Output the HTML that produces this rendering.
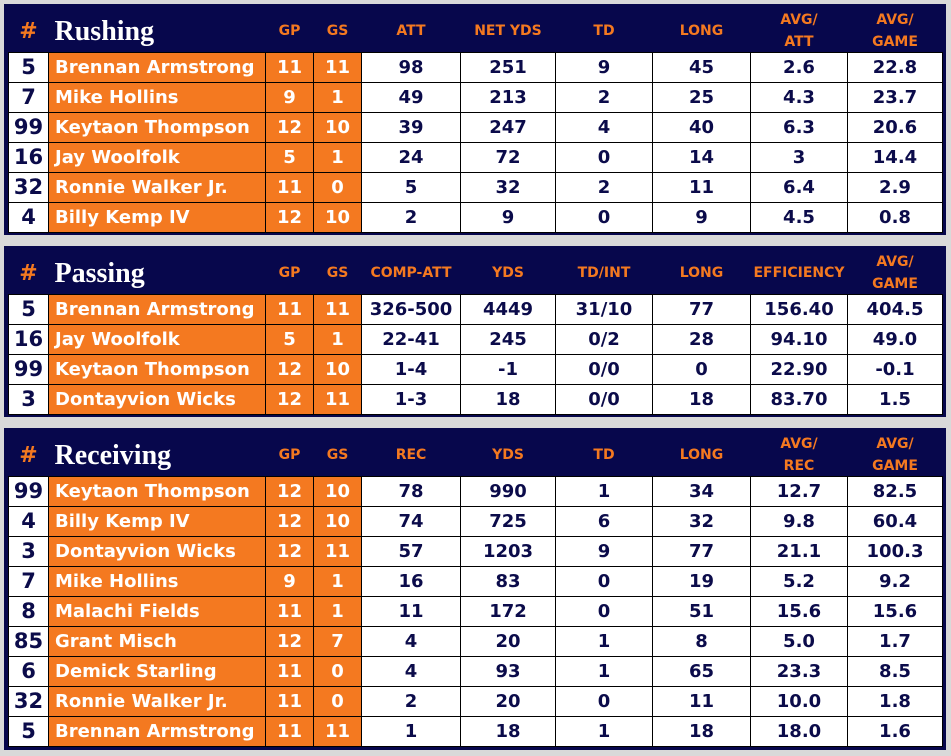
<!DOCTYPE html>
<html><head><meta charset="utf-8"><style>
body{margin:0;width:951px;height:756px;background:#d9d9d9;position:relative;overflow:hidden;font-family:"DejaVu Sans","Liberation Sans",sans-serif}
.p{position:absolute;left:4px;width:942px;background:#07074c}
table{position:absolute;left:4px;border-collapse:collapse;table-layout:fixed;width:934px}
td{height:29px;padding:0;text-align:center;border:1px solid #000;background:#fff;color:#0b0b4a;font-weight:bold;font-size:18px;line-height:29px;white-space:nowrap;overflow:hidden}
td.n{background:#f47920;color:#fff;text-align:left;padding-left:6px;font-size:18px}
td.g{background:#f47920;color:#fff;font-size:18px}
td.h{font-size:21px}
tr.hd td{background:#07074c;border:none;color:#f47920;font-size:14px;line-height:22px;height:48px}
tr.hd td span{position:relative;top:3px;display:inline-block}
tr.hd td.t{color:#fff;font-family:"Liberation Serif","DejaVu Serif",serif;font-size:28px;text-align:left;padding-left:6px}
tr.hd td.s{font-size:22px}
tr.hd td.t span,tr.hd td.s span{top:4px}
</style></head><body>
<div class="p" style="top:4px;height:231px">
<table><colgroup><col style="width:40px"><col style="width:217px"><col style="width:48px"><col style="width:48px"><col style="width:99px"><col style="width:95px"><col style="width:97px"><col style="width:98px"><col style="width:97px"><col style="width:95px"></colgroup>
<tr class="hd"><td class="s"><span>#</span></td><td class="t"><span>Rushing</span></td><td><span>GP</span></td><td><span>GS</span></td><td><span>ATT</span></td><td><span>NET YDS</span></td><td><span>TD</span></td><td><span>LONG</span></td><td><span>AVG/<br>ATT</span></td><td><span>AVG/<br>GAME</span></td></tr>
<tr><td class="h">5</td><td class="n">Brennan Armstrong</td><td class="g">11</td><td class="g">11</td><td>98</td><td>251</td><td>9</td><td>45</td><td>2.6</td><td>22.8</td></tr>
<tr><td class="h">7</td><td class="n">Mike Hollins</td><td class="g">9</td><td class="g">1</td><td>49</td><td>213</td><td>2</td><td>25</td><td>4.3</td><td>23.7</td></tr>
<tr><td class="h">99</td><td class="n">Keytaon Thompson</td><td class="g">12</td><td class="g">10</td><td>39</td><td>247</td><td>4</td><td>40</td><td>6.3</td><td>20.6</td></tr>
<tr><td class="h">16</td><td class="n">Jay Woolfolk</td><td class="g">5</td><td class="g">1</td><td>24</td><td>72</td><td>0</td><td>14</td><td>3</td><td>14.4</td></tr>
<tr><td class="h">32</td><td class="n">Ronnie Walker Jr.</td><td class="g">11</td><td class="g">0</td><td>5</td><td>32</td><td>2</td><td>11</td><td>6.4</td><td>2.9</td></tr>
<tr><td class="h">4</td><td class="n">Billy Kemp IV</td><td class="g">12</td><td class="g">10</td><td>2</td><td>9</td><td>0</td><td>9</td><td>4.5</td><td>0.8</td></tr>
</table></div>
<div class="p" style="top:246px;height:171px">
<table><colgroup><col style="width:40px"><col style="width:217px"><col style="width:48px"><col style="width:48px"><col style="width:99px"><col style="width:95px"><col style="width:97px"><col style="width:98px"><col style="width:97px"><col style="width:95px"></colgroup>
<tr class="hd"><td class="s"><span>#</span></td><td class="t"><span>Passing</span></td><td><span>GP</span></td><td><span>GS</span></td><td><span>COMP-ATT</span></td><td><span>YDS</span></td><td><span>TD/INT</span></td><td><span>LONG</span></td><td><span>EFFICIENCY</span></td><td><span>AVG/<br>GAME</span></td></tr>
<tr><td class="h">5</td><td class="n">Brennan Armstrong</td><td class="g">11</td><td class="g">11</td><td>326-500</td><td>4449</td><td>31/10</td><td>77</td><td>156.40</td><td>404.5</td></tr>
<tr><td class="h">16</td><td class="n">Jay Woolfolk</td><td class="g">5</td><td class="g">1</td><td>22-41</td><td>245</td><td>0/2</td><td>28</td><td>94.10</td><td>49.0</td></tr>
<tr><td class="h">99</td><td class="n">Keytaon Thompson</td><td class="g">12</td><td class="g">10</td><td>1-4</td><td>-1</td><td>0/0</td><td>0</td><td>22.90</td><td>-0.1</td></tr>
<tr><td class="h">3</td><td class="n">Dontayvion Wicks</td><td class="g">12</td><td class="g">11</td><td>1-3</td><td>18</td><td>0/0</td><td>18</td><td>83.70</td><td>1.5</td></tr>
</table></div>
<div class="p" style="top:428px;height:322px">
<table><colgroup><col style="width:40px"><col style="width:217px"><col style="width:48px"><col style="width:48px"><col style="width:99px"><col style="width:95px"><col style="width:97px"><col style="width:98px"><col style="width:97px"><col style="width:95px"></colgroup>
<tr class="hd"><td class="s"><span>#</span></td><td class="t"><span>Receiving</span></td><td><span>GP</span></td><td><span>GS</span></td><td><span>REC</span></td><td><span>YDS</span></td><td><span>TD</span></td><td><span>LONG</span></td><td><span>AVG/<br>REC</span></td><td><span>AVG/<br>GAME</span></td></tr>
<tr><td class="h">99</td><td class="n">Keytaon Thompson</td><td class="g">12</td><td class="g">10</td><td>78</td><td>990</td><td>1</td><td>34</td><td>12.7</td><td>82.5</td></tr>
<tr><td class="h">4</td><td class="n">Billy Kemp IV</td><td class="g">12</td><td class="g">10</td><td>74</td><td>725</td><td>6</td><td>32</td><td>9.8</td><td>60.4</td></tr>
<tr><td class="h">3</td><td class="n">Dontayvion Wicks</td><td class="g">12</td><td class="g">11</td><td>57</td><td>1203</td><td>9</td><td>77</td><td>21.1</td><td>100.3</td></tr>
<tr><td class="h">7</td><td class="n">Mike Hollins</td><td class="g">9</td><td class="g">1</td><td>16</td><td>83</td><td>0</td><td>19</td><td>5.2</td><td>9.2</td></tr>
<tr><td class="h">8</td><td class="n">Malachi Fields</td><td class="g">11</td><td class="g">1</td><td>11</td><td>172</td><td>0</td><td>51</td><td>15.6</td><td>15.6</td></tr>
<tr><td class="h">85</td><td class="n">Grant Misch</td><td class="g">12</td><td class="g">7</td><td>4</td><td>20</td><td>1</td><td>8</td><td>5.0</td><td>1.7</td></tr>
<tr><td class="h">6</td><td class="n">Demick Starling</td><td class="g">11</td><td class="g">0</td><td>4</td><td>93</td><td>1</td><td>65</td><td>23.3</td><td>8.5</td></tr>
<tr><td class="h">32</td><td class="n">Ronnie Walker Jr.</td><td class="g">11</td><td class="g">0</td><td>2</td><td>20</td><td>0</td><td>11</td><td>10.0</td><td>1.8</td></tr>
<tr><td class="h">5</td><td class="n">Brennan Armstrong</td><td class="g">11</td><td class="g">11</td><td>1</td><td>18</td><td>1</td><td>18</td><td>18.0</td><td>1.6</td></tr>
</table></div>
</body></html>
